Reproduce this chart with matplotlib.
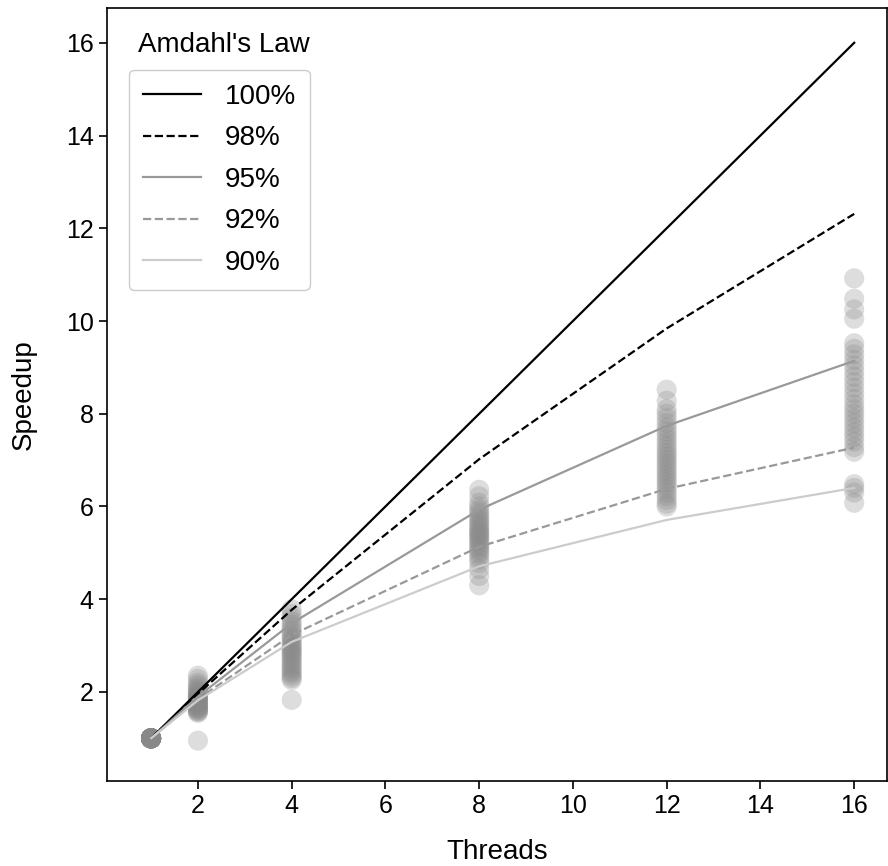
import matplotlib.pyplot as plt
import numpy as np

plt.rcParams["font.family"] = ["Liberation Sans", "DejaVu Sans"]

threads = [1, 2, 4, 8, 12, 16]

# Amdahl's law curves
amdahl_labels = ["100%", "98%", "95%", "92%", "90%"]
amdahl_100 = [1.0, 2.0, 4.0, 8.0, 12.0, 16.0]
amdahl_98 = [1.0, 1.96, 3.77, 7.02, 9.84, 12.31]
amdahl_95 = [1.0, 1.90, 3.48, 5.93, 7.74, 9.14]
amdahl_92 = [1.0, 1.85, 3.23, 5.13, 6.38, 7.27]
amdahl_90 = [1.0, 1.82, 3.08, 4.71, 5.71, 6.40]

# measured speedups per thread count
meas_1 = [1.0] * 30
meas_2 = [2.35, 2.28, 2.20, 2.15, 2.10, 2.06, 2.02, 1.99, 1.96, 1.93,
          1.91, 1.89, 1.87, 1.85, 1.83, 1.81, 1.79, 1.77, 1.75, 1.73,
          1.71, 1.69, 1.67, 1.65, 1.63, 1.61, 1.59, 1.57, 1.55, 0.95]
meas_4 = [3.78, 3.68, 3.60, 3.52, 3.45, 3.38, 3.32, 3.26, 3.20, 3.15,
          3.10, 3.05, 3.00, 2.96, 2.92, 2.88, 2.84, 2.80, 2.75, 2.70,
          2.65, 2.60, 2.55, 2.50, 2.45, 2.40, 2.35, 2.30, 2.26, 1.83]
meas_8 = [6.36, 6.22, 6.08, 6.00, 5.93, 5.87, 5.81, 5.75, 5.70, 5.65,
          5.60, 5.55, 5.50, 5.46, 5.42, 5.38, 5.34, 5.30, 5.25, 5.20,
          5.15, 5.10, 5.05, 5.00, 4.93, 4.86, 4.78, 4.65, 4.50, 4.30]
meas_12 = [8.52, 8.28, 8.10, 8.00, 7.90, 7.80, 7.70, 7.62, 7.54, 7.46,
           7.38, 7.30, 7.22, 7.15, 7.08, 7.01, 6.94, 6.87, 6.80, 6.73,
           6.66, 6.59, 6.52, 6.45, 6.38, 6.30, 6.22, 6.14, 6.06, 6.00]
meas_16 = [10.92, 10.48, 10.25, 10.05, 9.52, 9.40, 9.28, 9.16, 9.04, 8.92,
           8.80, 8.68, 8.56, 8.44, 8.32, 8.20, 8.10, 8.00, 7.90, 7.80,
           7.70, 7.60, 7.50, 7.40, 7.28, 7.18, 6.48, 6.40, 6.30, 6.08]

fig = plt.figure(figsize=(8.88, 8.66), dpi=100)
ax = fig.add_axes([107 / 888, 85 / 866, 780 / 888, 773 / 866])

for t, vals in zip(threads, [meas_1, meas_2, meas_4, meas_8, meas_12, meas_16]):
    ax.scatter([t] * len(vals), vals, s=210, color="#888888", alpha=0.28,
               edgecolors="none", zorder=1)

styles = [
    (amdahl_100, "#000000", "-"),
    (amdahl_98, "#000000", "--"),
    (amdahl_95, "#999999", "-"),
    (amdahl_92, "#999999", "--"),
    (amdahl_90, "#cccccc", "-"),
]
for (vals, col, ls), lab in zip(styles, amdahl_labels):
    ax.plot(threads, vals, color=col, linestyle=ls, linewidth=1.6,
            label=lab, zorder=2)

ax.set_xlim(0.06, 16.7)
ax.set_ylim(0.08, 16.75)
ax.set_xticks([2, 4, 6, 8, 10, 12, 14, 16])
ax.set_yticks([2, 4, 6, 8, 10, 12, 14, 16])
ax.tick_params(labelsize=18, length=6, width=1.2)
for sp in ax.spines.values():
    sp.set_linewidth(1.2)
ax.set_xlabel("Threads", fontsize=20, labelpad=15)
ax.set_ylabel("Speedup", fontsize=20, labelpad=21)

ax.text(0.040, 0.952, "Amdahl's Law", transform=ax.transAxes, fontsize=20,
        ha="left", va="center")
ax.legend(loc="upper left", bbox_to_anchor=(0.028, 0.92), borderaxespad=0,
          fontsize=20, handlelength=2.1, handletextpad=0.85,
          labelspacing=0.56, borderpad=0.5,
          edgecolor="#cccccc", framealpha=1)

fig.savefig("out.png", dpi=100)
